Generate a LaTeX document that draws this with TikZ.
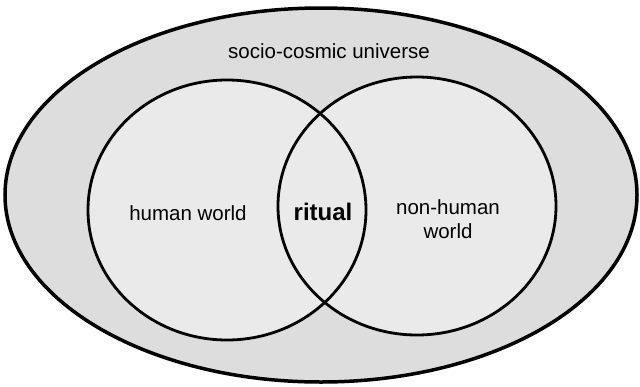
\documentclass[tikz,border=0pt]{standalone}
\usepackage{fontspec}
\setmainfont{Liberation Sans}
\usepackage{xcolor}
\usepackage{tikz}
\usetikzlibrary{positioning}
\definecolor{cosmosgray}{RGB}{221,221,221}
\definecolor{worldgray}{RGB}{234,234,234}

\begin{document}
\begin{tikzpicture}[x=1pt, y=-1pt,
    label/.style={font=\fontsize{20.5}{24.5}\selectfont, align=center, inner sep=0pt}]
  \useasboundingbox (0,0) rectangle (640,386);

  %% Outer universe
  \draw[fill=cosmosgray, line width=3.5pt] (321,195) ellipse [x radius=316, y radius=187];

  %% Two worlds
  \fill[worldgray] (227,210) ellipse [x radius=139, y radius=130];
  \fill[worldgray] (417,206) ellipse [x radius=139, y radius=129];
  \draw[line width=2.8pt] (227,210) ellipse [x radius=139, y radius=130];
  \draw[line width=2.8pt] (417,206) ellipse [x radius=139, y radius=129];

  %% Labels
  \node[label] (universe) at (329,51) {socio-cosmic universe};
  \node[label] (human) at (188,213) {human world};
  \node[label, font=\fontsize{24}{28}\selectfont\bfseries] (ritual) at (323,212) {ritual};
  \node[label] (nonhuman) at (448,219) {non-human\\world};
\end{tikzpicture}
\end{document}
